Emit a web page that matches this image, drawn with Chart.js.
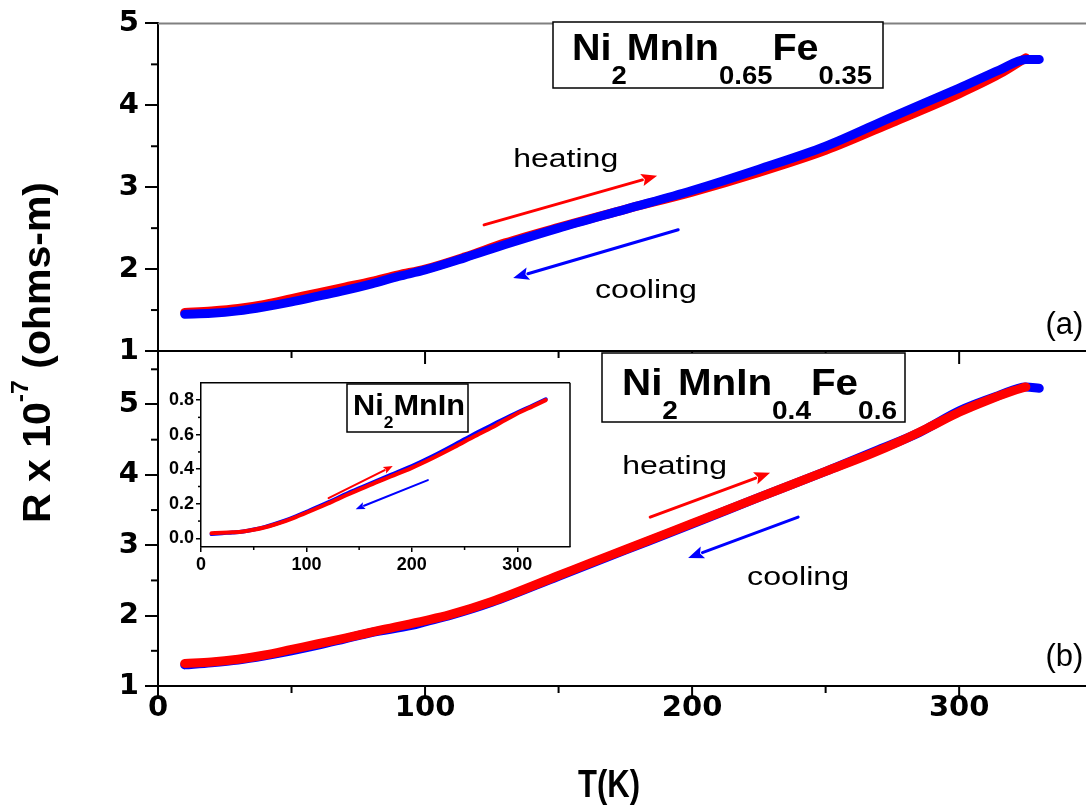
<!DOCTYPE html>
<html>
<head>
<meta charset="utf-8">
<script src="https://cdn.jsdelivr.net/npm/chart.js@4.4.0/dist/chart.umd.min.js"></script>
<style>
  html, body { margin: 0; padding: 0; background: #fff; }
  #wrap { position: relative; width: 1086px; height: 809px; overflow: hidden; background: #fff; }
  canvas { position: absolute; }
</style>
</head>
<body>
<div id="wrap">
  <canvas id="panelA" width="1086" height="809" style="left:0;top:0"></canvas>
  <canvas id="panelB" width="1086" height="809" style="left:0;top:0"></canvas>
  <canvas id="inset" width="440" height="215" style="left:150px;top:370px"></canvas>
</div>
<script>
const RED = '#ff0000';
const BLUE = '#0000ff';

// (a) Ni2MnIn0.65Fe0.35, resistivity in units of 1e-7 ohm-m
const tempHeatA = [10, 20, 30, 40, 50, 60, 70, 80, 90, 100, 115, 130, 150, 175, 200, 225, 250, 275, 300, 315, 325];
const resHeatA  = [1.47, 1.49, 1.52, 1.57, 1.64, 1.71, 1.78, 1.85, 1.93, 2.00, 2.15, 2.32, 2.51, 2.73, 2.94, 3.18, 3.45, 3.79, 4.14, 4.38, 4.58];
const tempCoolA = [10, 20, 30, 40, 50, 60, 70, 80, 90, 100, 115, 130, 150, 175, 200, 225, 250, 275, 300, 315, 325, 330];
const resCoolA  = [1.45, 1.46, 1.49, 1.54, 1.60, 1.67, 1.74, 1.82, 1.91, 1.99, 2.14, 2.30, 2.50, 2.73, 2.96, 3.22, 3.50, 3.86, 4.21, 4.43, 4.56, 4.56];

// (b) Ni2MnIn0.4Fe0.6
const tempHeatB = [10, 20, 30, 40, 50, 60, 70, 84, 100, 109, 125, 150, 162, 175, 200, 225, 250, 267, 278, 290, 300, 310, 320, 325];
const resHeatB  = [1.32, 1.34, 1.38, 1.44, 1.52, 1.60, 1.68, 1.80, 1.93, 2.01, 2.20, 2.57, 2.75, 2.94, 3.31, 3.68, 4.05, 4.30, 4.48, 4.70, 4.89, 5.05, 5.19, 5.25];
const tempCoolB = [10, 20, 30, 40, 50, 60, 70, 80, 95, 100, 110, 125, 150, 175, 200, 225, 250, 270, 285, 300, 315, 325, 330];
const resCoolB  = [1.30, 1.33, 1.37, 1.43, 1.50, 1.58, 1.67, 1.76, 1.86, 1.91, 2.01, 2.19, 2.56, 2.93, 3.30, 3.68, 4.05, 4.36, 4.60, 4.91, 5.13, 5.25, 5.23];

// inset: Ni2MnIn
const tempIn    = [10, 20, 30, 40, 50, 60, 70, 80, 90, 100, 120, 140, 160, 180, 200, 220, 240, 260, 280, 300, 315, 327];
const resHeatIn = [0.030, 0.032, 0.035, 0.040, 0.050, 0.063, 0.080, 0.100, 0.123, 0.148, 0.200, 0.255, 0.308, 0.358, 0.408, 0.465, 0.527, 0.592, 0.655, 0.722, 0.765, 0.800];
const resCoolIn = [0.025, 0.030, 0.034, 0.040, 0.051, 0.065, 0.083, 0.104, 0.128, 0.154, 0.207, 0.263, 0.315, 0.367, 0.418, 0.476, 0.540, 0.607, 0.668, 0.728, 0.770, 0.805];

const T_MAX = 347.5;
const tickFont = { family: 'DejaVu Sans', size: 29, weight: 'bold' };
const insetFont = { family: 'Liberation Sans', size: 18, weight: 'bold' };

function pts(xs, ys) {
  return xs.map((x, i) => ({ x: x, y: ys[i] }));
}

function curve(label, xs, ys, color, width) {
  return {
    label: label,
    data: pts(xs, ys),
    borderColor: color,
    backgroundColor: color,
    borderWidth: width,
    pointRadius: 0,
    cubicInterpolationMode: 'monotone',
    borderCapStyle: 'round',
    borderJoinStyle: 'round',
    fill: false
  };
}

// --- drawing helpers ---
function fitText(ctx, text, x, y, width, font, align) {
  ctx.font = font;
  const w = ctx.measureText(text).width;
  const sx = width / w;
  ctx.save();
  ctx.translate(align === 'center' ? x - width / 2 : x, y);
  ctx.scale(sx, 1);
  ctx.textAlign = 'left';
  ctx.textBaseline = 'alphabetic';
  ctx.fillText(text, 0, 0);
  ctx.restore();
}

// chemical formula with subscripts, stretched to a given width
function formula(ctx, parts, x, base, subBase, width, bigPx, subPx) {
  const big = 'bold ' + bigPx + 'px "Liberation Sans", Arial, sans-serif';
  const small = 'bold ' + subPx + 'px "Liberation Sans", Arial, sans-serif';
  let total = 0;
  parts.forEach(p => { ctx.font = p[1] ? small : big; total += ctx.measureText(p[0]).width; });
  const sx = width / total;
  ctx.save();
  ctx.translate(x, 0);
  ctx.scale(sx, 1);
  ctx.fillStyle = '#000';
  ctx.textAlign = 'left';
  ctx.textBaseline = 'alphabetic';
  let cx = 0;
  parts.forEach(p => {
    ctx.font = p[1] ? small : big;
    ctx.fillText(p[0], cx, p[1] ? subBase : base);
    cx += ctx.measureText(p[0]).width;
  });
  ctx.restore();
}

function arrow(ctx, x0, y0, x1, y1, color, lw, head) {
  const ang = Math.atan2(y1 - y0, x1 - x0);
  const bx = x1 - Math.cos(ang) * head * 0.9;
  const by = y1 - Math.sin(ang) * head * 0.9;
  ctx.save();
  ctx.strokeStyle = color;
  ctx.fillStyle = color;
  ctx.lineWidth = lw;
  ctx.lineCap = 'round';
  ctx.beginPath();
  ctx.moveTo(x0, y0);
  ctx.lineTo(bx, by);
  ctx.stroke();
  ctx.beginPath();
  ctx.moveTo(x1, y1);
  ctx.lineTo(x1 - Math.cos(ang - 0.38) * head, y1 - Math.sin(ang - 0.38) * head);
  ctx.lineTo(x1 - Math.cos(ang) * head * 0.75, y1 - Math.sin(ang) * head * 0.75);
  ctx.lineTo(x1 - Math.cos(ang + 0.38) * head, y1 - Math.sin(ang + 0.38) * head);
  ctx.closePath();
  ctx.fill();
  ctx.restore();
}

function line(ctx, x0, y0, x1, y1, color, lw) {
  ctx.save();
  ctx.strokeStyle = color;
  ctx.lineWidth = lw;
  ctx.beginPath();
  ctx.moveTo(x0, y0);
  ctx.lineTo(x1, y1);
  ctx.stroke();
  ctx.restore();
}

// axis line along the bottom of a panel, with major/minor ticks pointing down
function bottomAxis(ctx, chart, majors, minors, majLen, minLen, lw) {
  const xs = chart.scales.x;
  const a = chart.chartArea;
  line(ctx, a.left - 1, a.bottom, a.right, a.bottom, '#000', lw);
  majors.forEach(v => line(ctx, xs.getPixelForValue(v), a.bottom, xs.getPixelForValue(v), a.bottom + majLen, '#000', lw));
  minors.forEach(v => line(ctx, xs.getPixelForValue(v), a.bottom, xs.getPixelForValue(v), a.bottom + minLen, '#000', lw));
}

function leftMinor(ctx, chart, minors, len, lw) {
  const ys = chart.scales.y;
  const a = chart.chartArea;
  minors.forEach(v => line(ctx, a.left, ys.getPixelForValue(v), a.left - len, ys.getPixelForValue(v), '#000', lw));
}

function panelNotes(ctx, chart, n) {
  const xs = chart.scales.x, ys = chart.scales.y;
  const px = v => xs.getPixelForValue(v), py = v => ys.getPixelForValue(v);
  ctx.fillStyle = '#000';
  fitText(ctx, 'heating', px(n.heating[0]), py(n.heating[1]), 105, '26px "Liberation Sans", Arial, sans-serif');
  fitText(ctx, 'cooling', px(n.cooling[0]), py(n.cooling[1]), 102, '26px "Liberation Sans", Arial, sans-serif');
  arrow(ctx, px(n.heatArrow[0]), py(n.heatArrow[1]), px(n.heatArrow[2]), py(n.heatArrow[3]), RED, 3, 17);
  arrow(ctx, px(n.coolArrow[0]), py(n.coolArrow[1]), px(n.coolArrow[2]), py(n.coolArrow[3]), BLUE, 3, 17);
  ctx.save();
  ctx.font = '31px "Liberation Sans", Arial, sans-serif';
  ctx.textAlign = 'right';
  ctx.fillText(n.letter, px(n.letterAt[0]), py(n.letterAt[1]));
  ctx.restore();
}

function box(ctx, x0, y0, x1, y1) {
  ctx.save();
  ctx.fillStyle = '#fff';
  ctx.fillRect(x0, y0, x1 - x0, y1 - y0);
  ctx.strokeStyle = '#000';
  ctx.lineWidth = 1.5;
  ctx.strokeRect(x0, y0, x1 - x0, y1 - y0);
  ctx.restore();
}

// annotation anchors in data units (T, R)
const notesA = {
  heating: [133, 3.25], cooling: [163.6, 1.65],
  heatArrow: [122.1, 2.54, 186.9, 3.14], coolArrow: [194.8, 2.48, 133.0, 1.89],
  letter: '(a)', letterAt: [346.5, 1.21]
};
const notesB = {
  heating: [173.8, 4.01], cooling: [220.6, 2.43],
  heatArrow: [184.3, 3.40, 229.2, 4.03], coolArrow: [239.7, 3.40, 198.5, 2.82],
  letter: '(b)', letterAt: [346.5, 1.28]
};

const formulaA = [['Ni', false], ['2', true], ['MnIn', false], ['0.65', true], ['Fe', false], ['0.35', true]];
const formulaB = [['Ni', false], ['2', true], ['MnIn', false], ['0.4', true], ['Fe', false], ['0.6', true]];
const formulaIn = [['Ni', false], ['2', true], ['MnIn', false]];

const majorT = [0, 100, 200, 300];
const minorT = [50, 150, 250];
const minorR = [1.5, 2.5, 3.5, 4.5, 5.5];

function mainScales(yMax, showX) {
  const x = {
    type: 'linear', min: 0, max: T_MAX, display: showX,
    ticks: { stepSize: 100, includeBounds: false, font: tickFont, color: '#000', padding: 5, maxRotation: 0 },
    grid: { drawOnChartArea: false, drawTicks: false },
    border: { display: false }
  };
  if (showX) x.afterFit = s => { s.height = 123; };
  return {
    x: x,
    y: {
      min: 1, max: yMax,
      afterFit: s => { s.width = 158; },
      ticks: { stepSize: 1, includeBounds: false, font: tickFont, color: '#000', padding: 6 },
      grid: { drawOnChartArea: false, tickLength: 13, lineWidth: 2, color: '#000' },
      border: { color: '#000', width: 2 }
    }
  };
}

const common = {
  responsive: false,
  animation: false,
  devicePixelRatio: 1,
  plugins: { legend: { display: false }, tooltip: { enabled: false } }
};

// top panel (a)
new Chart(document.getElementById('panelA'), {
  type: 'line',
  data: { datasets: [
    curve('cooling', tempCoolA, resCoolA, BLUE, 9),
    curve('heating', tempHeatA, resHeatA, RED, 9)
  ] },
  options: Object.assign({}, common, {
    layout: { padding: { left: 0, top: 19, right: 0, bottom: 458 } },
    scales: mainScales(5, false)
  }),
  plugins: [{
    id: 'decorA',
    afterDraw(chart) {
      const ctx = chart.ctx, a = chart.chartArea;
      line(ctx, a.left, a.top, a.right, a.top, '#808080', 2);
      bottomAxis(ctx, chart, majorT.slice(1), minorT, 13, 7, 2);
      leftMinor(ctx, chart, minorR.slice(0, 4), 7, 2);
      box(ctx, 553, 22, 883, 88);
      formula(ctx, formulaA, 572, 60, 84, 300, 36, 25);
      panelNotes(ctx, chart, notesA);
    }
  }]
});

// bottom panel (b)
new Chart(document.getElementById('panelB'), {
  type: 'line',
  data: { datasets: [
    curve('heating', tempHeatB, resHeatB, RED, 9),
    curve('cooling', tempCoolB, resCoolB, BLUE, 9)
  ] },
  options: Object.assign({}, common, {
    layout: { padding: { left: 0, top: 351, right: 0, bottom: 0 } },
    scales: mainScales(5.76, true)
  }),
  plugins: [{
    id: 'decorB',
    afterDraw(chart) {
      const ctx = chart.ctx;
      bottomAxis(ctx, chart, majorT, minorT, 13, 7, 2);
      leftMinor(ctx, chart, minorR, 7, 2);
      box(ctx, 602, 353, 905, 422);
      formula(ctx, formulaB, 622, 395, 419, 275, 36, 25);
      panelNotes(ctx, chart, notesB);

      // shared axis titles
      ctx.fillStyle = '#000';
      fitText(ctx, 'T(K)', 609, 797, 62, 'bold 38px "Liberation Sans", Arial, sans-serif', 'center');
      const big = 'bold 38px "Liberation Sans", Arial, sans-serif';
      const sup = 'bold 23px "Liberation Sans", Arial, sans-serif';
      const parts = [['R x 10', big, 0], ['-7', sup, -22], [' (ohms-m)', big, 0]];
      let total = 0;
      parts.forEach(p => { ctx.font = p[1]; total += ctx.measureText(p[0]).width; });
      ctx.save();
      ctx.translate(50, 523);
      ctx.rotate(-Math.PI / 2);
      ctx.scale(341 / total, 1);
      ctx.textBaseline = 'alphabetic';
      let cx = 0;
      parts.forEach(p => {
        ctx.font = p[1];
        ctx.fillText(p[0], cx, p[2]);
        cx += ctx.measureText(p[0]).width;
      });
      ctx.restore();
    }
  }]
});

// inset: Ni2MnIn
const notesIn = {
  heatArrow: [121, 0.233, 181.9, 0.418],
  coolArrow: [215.2, 0.337, 146.7, 0.169]
};

new Chart(document.getElementById('inset'), {
  type: 'line',
  data: { datasets: [
    curve('heating', tempIn, resHeatIn, RED, 4),
    curve('cooling', tempIn, resCoolIn, BLUE, 4)
  ] },
  options: Object.assign({}, common, {
    layout: { padding: { left: 0, top: 12, right: 20, bottom: 0 } },
    scales: {
      x: {
        type: 'linear', min: 0, max: 350,
        afterFit: s => { s.height = 38; },
        ticks: { stepSize: 100, includeBounds: false, font: insetFont, color: '#000', padding: 2, maxRotation: 0 },
        grid: { drawOnChartArea: false, tickLength: 5, lineWidth: 1.5, color: '#000' },
        border: { color: '#000', width: 1.5 }
      },
      y: {
        min: -0.05, max: 0.9,
        afterFit: s => { s.width = 51; },
        ticks: { stepSize: 0.2, includeBounds: false, font: insetFont, color: '#000', padding: 2,
                 callback: v => v.toFixed(1) },
        grid: { drawOnChartArea: false, tickLength: 5, lineWidth: 1.5, color: '#000' },
        border: { color: '#000', width: 1.5 }
      }
    }
  }),
  plugins: [{
    id: 'insetBg',
    beforeDraw(chart) {
      const ctx = chart.ctx, a = chart.chartArea;
      ctx.save();
      ctx.fillStyle = '#fff';
      ctx.fillRect(a.left, a.top, a.right - a.left, a.bottom - a.top);
      ctx.restore();
    },
    afterDraw(chart) {
      const ctx = chart.ctx, a = chart.chartArea;
      const xs = chart.scales.x, ys = chart.scales.y;
      line(ctx, a.left, a.top, a.right, a.top, '#000', 1.5);
      line(ctx, a.right, a.top, a.right, a.bottom, '#000', 1.5);
      [50, 150, 250].forEach(v => line(ctx, xs.getPixelForValue(v), a.bottom, xs.getPixelForValue(v), a.bottom + 3, '#000', 1.5));
      [0.1, 0.3, 0.5, 0.7].forEach(v => line(ctx, a.left, ys.getPixelForValue(v), a.left - 3, ys.getPixelForValue(v), '#000', 1.5));
      box(ctx, 197, 14, 318, 62);
      formula(ctx, formulaIn, 203, 45, 58, 112, 30, 17);
      const px = v => xs.getPixelForValue(v), py = v => ys.getPixelForValue(v);
      const h = notesIn.heatArrow, c = notesIn.coolArrow;
      arrow(ctx, px(h[0]), py(h[1]), px(h[2]), py(h[3]), RED, 2, 10);
      arrow(ctx, px(c[0]), py(c[1]), px(c[2]), py(c[3]), BLUE, 2, 10);
    }
  }]
});
</script>
</body>
</html>
